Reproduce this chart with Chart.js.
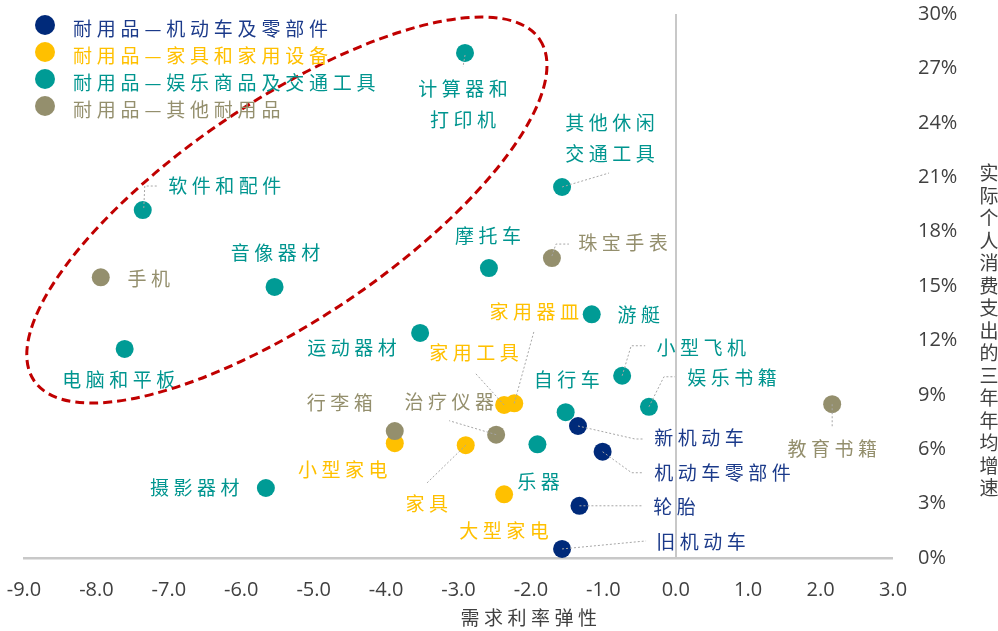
<!DOCTYPE html>
<html>
<head>
<meta charset="utf-8">
<script src="https://cdn.jsdelivr.net/npm/chart.js@4.4.1/dist/chart.umd.min.js"></script>
<style>
  html, body { margin: 0; padding: 0; background: #ffffff; }
  canvas { display: block; }
</style>
</head>
<body>
<canvas id="chart" width="998" height="631"></canvas>
<script>
// 四类耐用品
const seriesNames = [
  '耐用品—机动车及零部件',
  '耐用品—家具和家用设备',
  '耐用品—娱乐商品及交通工具',
  '耐用品—其他耐用品'
];

// 机动车及零部件：需求利率弹性 / 实际个人消费支出三年年均增速(%)
const autoItems      = ['新机动车', '机动车零部件', '轮胎', '旧机动车'];
const autoElasticity = [-1.35, -1.01, -1.33, -1.57];
const autoGrowth     = [7.28, 5.86, 2.88, 0.50];

// 家具和家用设备
const homeItems      = ['家用器皿', '家用工具', '小型家电', '家具', '大型家电'];
const homeElasticity = [-2.23, -2.37, -3.88, -2.90, -2.37];
const homeGrowth     = [8.53, 8.44, 6.33, 6.22, 3.51];

// 娱乐商品及交通工具
const recItems = ['计算器和\n打印机', '其他休闲\n交通工具', '软件和配件', '摩托车', '音像器材', '游艇',
                  '运动器材', '电脑和平板', '小型飞机', '娱乐书籍', '自行车', '乐器', '摄影器材'];
const recElasticity = [-2.91, -1.57, -7.36, -2.58, -5.54, -1.16, -3.53, -7.61, -0.74, -0.37, -1.52, -1.91, -5.66];
const recGrowth     = [27.85, 20.46, 19.19, 15.99, 14.95, 13.44, 12.41, 11.53, 10.05, 8.34, 8.04, 6.27, 3.86];

// 其他耐用品
const otherItems      = ['珠宝手表', '手机', '教育书籍', '行李箱', '治疗仪器'];
const otherElasticity = [-1.71, -7.94, 2.16, -3.88, -2.48];
const otherGrowth     = [16.54, 15.48, 8.48, 7.00, 6.80];

// 坐标轴刻度
const xTickValues = [-9, -8, -7, -6, -5, -4, -3, -2, -1, 0, 1, 2, 3];
const yTickValues = [0, 3, 6, 9, 12, 15, 18, 21, 24, 27, 30];
const xAxisTitle = '需求利率弹性';
const yAxisTitle = '实际个人消费支出的三年年均增速';

// 样式
const pointColors = ['#002A7A', '#FFC000', '#009B95', '#948F6D'];
const textColors  = ['#1B3A8A', '#FFC000', '#00958F', '#948F6D'];
const drawOrder   = [0, 3, 2, 1];   // 机动车在最上层，其他耐用品压在家电上
const cjkFont = '"Noto Sans CJK SC", "Noto Sans", sans-serif';

// 数据标签相对散点的偏移（像素）与引导线折点
const labelLayout = {
  '新机动车':       { dx: 121, dy: 12,  lead: [[0, 0], [57, 13], [66, 13]] },
  '机动车零部件':   { dx: 120, dy: 21,  lead: [[0, 0], [29, 21], [40, 21]] },
  '轮胎':           { dx: 95,  dy: 1,   lead: [[0, 0], [63, 0]] },
  '旧机动车':       { dx: 139, dy: -7,  lead: [[0, 0], [84, -8]] },
  '家用器皿':       { dx: 20,  dy: -92, lead: [[0, 0], [20, -73]] },
  '家用工具':       { dx: -30, dy: -52, lead: [[0, 0], [-29, -32]] },
  '小型家电':       { dx: -52, dy: 27 },
  '家具':           { dx: -39, dy: 59,  lead: [[0, 0], [-39, 38]] },
  '大型家电':       { dx: 0,   dy: 36 },
  '计算器和\n打印机': { dx: -2, dy: 36, lead: [[0, 2], [-2, 14]] },
  '其他休闲\n交通工具': { dx: 48, dy: -64, lead: [[0, 0], [47, -14]] },
  '软件和配件':     { dx: 82,  dy: -24, lead: [[1, -2], [2, -24], [14, -24]] },
  '摩托车':         { dx: -1,  dy: -32 },
  '音像器材':       { dx: 1,   dy: -34 },
  '游艇':           { dx: 47,  dy: 0 },
  '运动器材':       { dx: -68, dy: 15 },
  '电脑和平板':     { dx: -6,  dy: 31 },
  '小型飞机':       { dx: 79,  dy: -28, lead: [[0, 0], [9, -30], [23, -30]] },
  '娱乐书籍':       { dx: 83,  dy: -29, lead: [[0, 0], [15, -30], [26, -30]] },
  '自行车':         { dx: 1,   dy: -32 },
  '乐器':           { dx: 1,   dy: 37 },
  '摄影器材':       { dx: -71, dy: 0 },
  '珠宝手表':       { dx: 71,  dy: -15, lead: [[0, -2], [4, -14], [17, -14]] },
  '手机':           { dx: 48,  dy: 1 },
  '教育书籍':       { dx: 0,   dy: 45,  lead: [[0, 0], [0, 22]] },
  '行李箱':         { dx: -55, dy: -28 },
  '治疗仪器':       { dx: -47, dy: -33, lead: [[0, 0], [-47, -14]] }
};

// 圈出高弹性组的虚线椭圆：中心用数据坐标，半轴与倾角用像素
const highlightEllipse = { x: -5.37, y: 19.19, rx: 305, ry: 109, angle: -34 };

function toPoints(xs, ys, names) {
  return xs.map((x, i) => ({ x: x, y: ys[i], name: names[i] }));
}

const groups = [
  toPoints(autoElasticity, autoGrowth, autoItems),
  toPoints(homeElasticity, homeGrowth, homeItems),
  toPoints(recElasticity, recGrowth, recItems),
  toPoints(otherElasticity, otherGrowth, otherItems)
];

const datasets = groups.map((pts, i) => ({
  label: seriesNames[i],
  data: pts,
  backgroundColor: pointColors[i],
  borderWidth: 0,
  pointRadius: 9,
  pointHoverRadius: 9,
  order: drawOrder[i]
}));

function spacedText(ctx, str, cx, cy, ls) {
  ctx.letterSpacing = '0px';
  const chars = [...str];
  const w = ctx.measureText(str).width + ls * (chars.length - 1);
  ctx.letterSpacing = ls + 'px';
  ctx.textAlign = 'left';
  ctx.fillText(str, cx - w / 2, cy);
  ctx.letterSpacing = '0px';
}

const decorations = {
  id: 'decorations',
  afterDatasetsDraw(chart) {
    const ctx = chart.ctx;
    const xs = chart.scales.x, ys = chart.scales.y;

    // 引导线
    ctx.save();
    ctx.strokeStyle = '#A6A6A6';
    ctx.lineWidth = 1;
    ctx.setLineDash([2, 2]);
    chart.data.datasets.forEach((ds, di) => {
      const meta = chart.getDatasetMeta(di);
      ds.data.forEach((p, j) => {
        const lay = labelLayout[p.name];
        if (!lay || !lay.lead) return;
        const el = meta.data[j];
        ctx.beginPath();
        lay.lead.forEach((q, k) => {
          const px = el.x + q[0], py = el.y + q[1];
          if (k === 0) ctx.moveTo(px, py); else ctx.lineTo(px, py);
        });
        ctx.stroke();
      });
    });
    ctx.restore();

    // 数据标签
    ctx.save();
    ctx.font = '19px ' + cjkFont;
    ctx.textBaseline = 'middle';
    chart.data.datasets.forEach((ds, di) => {
      const meta = chart.getDatasetMeta(di);
      ctx.fillStyle = textColors[di];
      ds.data.forEach((p, j) => {
        const lay = labelLayout[p.name];
        if (!lay) return;
        const el = meta.data[j];
        const lines = p.name.split('\n');
        lines.forEach((line, k) => {
          spacedText(ctx, line, el.x + lay.dx, el.y + lay.dy + k * 31, 4.5);
        });
      });
    });
    ctx.restore();

    // 红色虚线椭圆
    ctx.save();
    ctx.strokeStyle = '#C00000';
    ctx.lineWidth = 3;
    ctx.setLineDash([9, 5]);
    ctx.beginPath();
    ctx.ellipse(xs.getPixelForValue(highlightEllipse.x), ys.getPixelForValue(highlightEllipse.y),
      highlightEllipse.rx, highlightEllipse.ry, highlightEllipse.angle * Math.PI / 180, 0, Math.PI * 2);
    ctx.stroke();
    ctx.restore();

    // 图例
    ctx.save();
    ctx.font = '19px ' + cjkFont;
    ctx.textBaseline = 'middle';
    chart.data.datasets.forEach((ds, i) => {
      const cy = 25 + i * 27;
      ctx.fillStyle = pointColors[i];
      ctx.beginPath();
      ctx.arc(45, cy, 10, 0, Math.PI * 2);
      ctx.fill();
      ctx.fillStyle = textColors[i];
      ctx.letterSpacing = '4.8px';
      ctx.textAlign = 'left';
      ctx.fillText(ds.label, 73, cy + 4);
      ctx.letterSpacing = '0px';
    });
    ctx.restore();

    // 坐标轴标题
    ctx.save();
    ctx.fillStyle = '#404040';
    ctx.font = '19px ' + cjkFont;
    ctx.textBaseline = 'middle';
    spacedText(ctx, xAxisTitle, xs.getPixelForValue(-2.03), 618, 4.5);
    ctx.textAlign = 'center';
    [...yAxisTitle].forEach((ch, k) => {
      ctx.fillText(ch, 989, 173 + k * 22.5);
    });
    ctx.restore();
  }
};

new Chart(document.getElementById('chart'), {
  type: 'scatter',
  data: { datasets: datasets },
  options: {
    responsive: false,
    devicePixelRatio: 1,
    animation: false,
    events: [],
    layout: { padding: { left: 24, top: 14, right: 0, bottom: 0 } },
    plugins: {
      legend: { display: false },
      tooltip: { enabled: false }
    },
    scales: {
      x: {
        type: 'linear',
        position: 'bottom',
        min: xTickValues[0],
        max: xTickValues[xTickValues.length - 1],
        afterBuildTicks: (scale) => { scale.ticks = xTickValues.map(v => ({ value: v })); },
        afterFit: (scale) => {
          scale.height = 73;
          scale.paddingLeft = 0;
          scale.paddingRight = 0;
        },
        ticks: {
          autoSkip: false,
          maxRotation: 0,
          padding: 20,
          color: '#404040',
          font: { family: '"Open Sans", sans-serif', size: 20 },
          callback: (v) => Number(v).toFixed(1)
        },
        grid: {
          drawTicks: false,
          lineWidth: (c) => (c.tick && c.tick.value === 0 ? 2 : 0),
          color: (c) => (c.tick && c.tick.value === 0 ? '#C8C8C8' : 'rgba(0,0,0,0)')
        },
        border: { display: true, color: '#C8C8C8', width: 2.5 }
      },
      y: {
        type: 'linear',
        position: 'right',
        min: yTickValues[0],
        max: yTickValues[yTickValues.length - 1],
        afterBuildTicks: (scale) => { scale.ticks = yTickValues.map(v => ({ value: v })); },
        afterFit: (scale) => {
          scale.width = 105;
          scale.paddingTop = 0;
          scale.paddingBottom = 0;
        },
        ticks: {
          autoSkip: false,
          padding: 25,
          color: '#404040',
          font: { family: '"Open Sans", sans-serif', size: 20 },
          callback: (v) => v + '%'
        },
        grid: { display: false, drawTicks: false },
        border: { display: false }
      }
    }
  },
  plugins: [decorations]
});
</script>
</body>
</html>
